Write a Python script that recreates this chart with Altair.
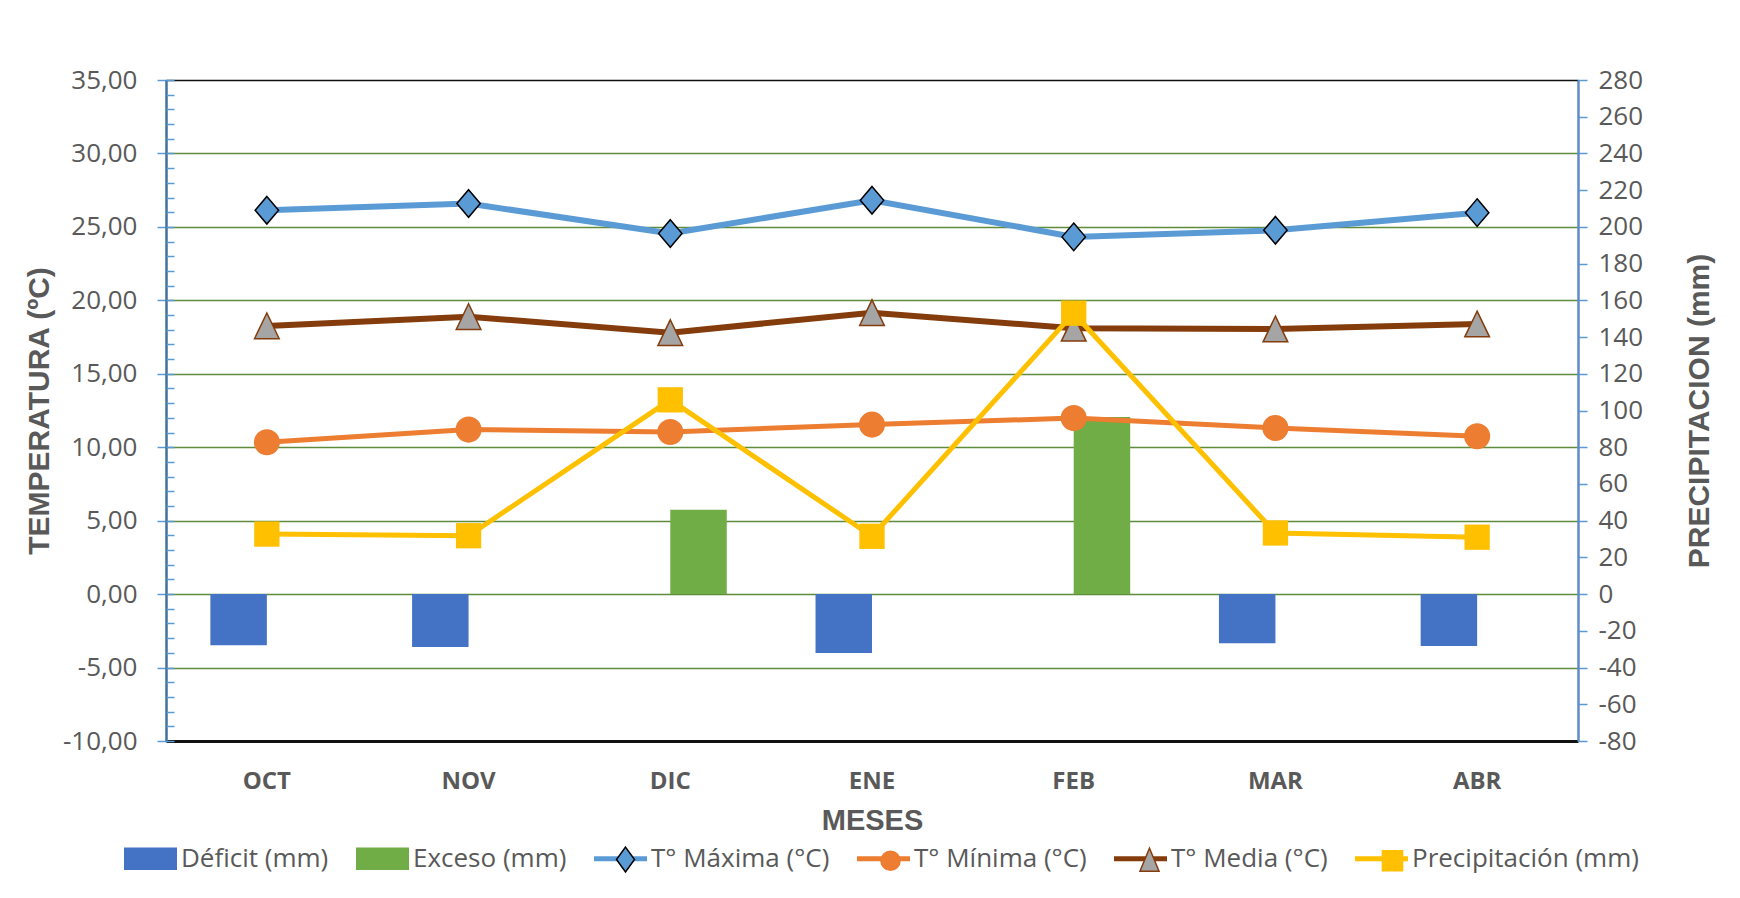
import altair as alt
import pandas as pd

# ---------------- data ----------------
meses = ["OCT", "NOV", "DIC", "ENE", "FEB", "MAR", "ABR"]
t_max = [26.13, 26.59, 24.55, 26.81, 24.32, 24.77, 25.97]
t_min = [10.34, 11.20, 11.04, 11.54, 11.99, 11.31, 10.75]
t_media = [18.26, 18.89, 17.80, 19.16, 18.10, 18.05, 18.39]
precipitacion = [32.7, 31.8, 105.8, 31.5, 153.0, 33.3, 31.0]
deficit = [-27.9, -28.8, None, -32.1, None, -26.7, -28.3]
exceso = [None, None, 46.0, None, 96.5, None, None]

series = ["Déficit (mm)", "Exceso (mm)", "T° Máxima (°C)",
          "T° Mínima (°C)", "T° Media (°C)", "Precipitación (mm)"]
temp_ticks = list(range(-10, 36, 5))
prec_ticks = list(range(-80, 281, 20))

# ---------------- styles ----------------
C_DEF, C_EXC = "#4472C4", "#70AD47"
C_MAX, C_MIN, C_MED, C_PRE = "#5B9BD5", "#ED7D31", "#843C0C", "#FFC000"
GRAY = "#595959"

df = pd.DataFrame({"mes": meses, "tmax": t_max, "tmin": t_min,
                   "tmed": t_media, "prec": precipitacion})
bars = pd.DataFrame(
    [{"mes": m, "tipo": "Déficit", "valor": v} for m, v in zip(meses, deficit) if v is not None]
    + [{"mes": m, "tipo": "Exceso", "valor": v} for m, v in zip(meses, exceso) if v is not None]
)
leg_df = pd.DataFrame({"serie": series, "serie_m": series})

X = alt.X("mes:N", sort=meses,
          scale=alt.Scale(type="band", domain=meses, paddingInner=0.44, paddingOuter=0.22),
          axis=alt.Axis(title="MESES", labelAngle=0, ticks=False, domain=False, grid=False,
                        labelFont="Open Sans", labelFontWeight="bold", labelFontSize=24,
                        labelColor=GRAY, labelPadding=28,
                        titleFont="Liberation Sans", titleFontSize=29, titleFontWeight="bold",
                        titleColor=GRAY, titlePadding=13))

temp_scale = alt.Scale(domain=[-10, 35], nice=False, zero=False)
prec_scale = alt.Scale(domain=[-80, 280], nice=False, zero=False)

axis_temp = alt.Axis(
    title="TEMPERATURA (ºC)", orient="left", values=temp_ticks,
    labelExpr="(datum.value < 0 ? '-' : '') + replace(format(abs(datum.value), '.2f'), '.', ',')",
    grid=True,
    gridColor={"condition": {"test": "datum.value === -10 || datum.value === 35", "value": "#111111"},
               "value": "#5E8C3A"},
    gridWidth={"condition": {"test": "datum.value === -10", "value": 3}, "value": 1.6},
    domainColor="#41719C", domainWidth=2.5,
    tickColor="#5B9BD5", tickSize=9, tickWidth=1.5,
    labelPadding=20, labelFont="Open Sans", labelFontSize=26, labelColor=GRAY,
    titleFont="Liberation Sans", titleFontSize=30, titleFontWeight="bold",
    titleColor=GRAY, titlePadding=8)

axis_prec = alt.Axis(
    title="PRECIPITACION (mm)", orient="right", values=prec_ticks,
    labelExpr="(datum.value < 0 ? '-' : '') + format(abs(datum.value), 'd')",
    grid=False, domainColor="#5F8CC4", domainWidth=2.5,
    tickColor="#5B9BD5", tickSize=9, tickWidth=1.5,
    labelPadding=11, labelFont="Open Sans", labelFontSize=26, labelColor=GRAY,
    titleFont="Liberation Sans", titleFontSize=30, titleFontWeight="bold",
    titleColor=GRAY, titleAngle=270, titleBaseline="top", titlePadding=42)

base = alt.Chart(df)

# ---------------- bars (secondary scale) ----------------
bar_base = alt.Chart(bars)
xoff = alt.XOffset("tipo:N", scale=alt.Scale(domain=["Déficit", "Exceso"], paddingInner=0, paddingOuter=0))
bars_def = bar_base.transform_filter(alt.datum.tipo == "Déficit").mark_bar(color=C_DEF).encode(
    x=X, xOffset=xoff, y=alt.Y("valor:Q", scale=prec_scale, axis=None))
bars_exc = bar_base.transform_filter(alt.datum.tipo == "Exceso").mark_bar(color=C_EXC).encode(
    x=X, xOffset=xoff, y=alt.Y("valor:Q", scale=prec_scale, axis=None))

# ---------------- temperature lines ----------------
def ty(f):
    return alt.Y(f"{f}:Q", scale=temp_scale, axis=axis_temp)

diamond = "M0,-1L0.85,0L0,1L-0.85,0Z"
triangle = "M0,-1L0.96,1L-0.96,1Z"

temp = alt.layer(
    base.mark_line(color=C_MAX, strokeWidth=6).encode(x=X, y=ty("tmax")),
    base.mark_point(shape=diamond, size=760, filled=True, fill=C_MAX, stroke="black",
                    strokeWidth=1.5, opacity=1).encode(x=X, y=ty("tmax")),
    base.mark_line(color=C_MIN, strokeWidth=5).encode(x=X, y=ty("tmin")),
    base.mark_point(shape="circle", size=680, filled=True, fill=C_MIN, opacity=1).encode(x=X, y=ty("tmin")),
    base.mark_line(color=C_MED, strokeWidth=6).encode(x=X, y=ty("tmed")),
    base.mark_point(shape=triangle, size=660, filled=True, fill="#A5A5A5", stroke=C_MED,
                    strokeWidth=1.5, opacity=1).encode(x=X, y=ty("tmed")),
)

# ---------------- precipitation line ----------------
py = alt.Y("prec:Q", scale=prec_scale, axis=axis_prec)
prec = alt.layer(
    base.mark_line(color=C_PRE, strokeWidth=5).encode(x=X, y=py),
    base.mark_point(shape="square", size=640, filled=True, fill=C_PRE, opacity=1).encode(x=X, y=py),
)

# ---------------- minor ticks on the left axis ----------------
minor = base.mark_point(opacity=0).encode(
    x=X,
    y=alt.Y("tmax:Q", scale=temp_scale,
            axis=alt.Axis(orient="left", offset=-8, values=list(range(-10, 36)), tickSize=8,
                          tickColor="#5B9BD5", tickWidth=1.5, labels=False, domain=False,
                          grid=False, title=None)))

# ---------------- legend ----------------
bar_sym = "M-1,-0.42H1V0.42H-1Z"
line_sym = "M-1,-0.09H1V0.09H-1Z"
shapes1 = [bar_sym, bar_sym, line_sym, line_sym, line_sym, line_sym]
colores = [C_DEF, C_EXC, C_MAX, C_MIN, C_MED, C_PRE]

m_diamond = "M0,-0.47L0.34,0L0,0.47L-0.34,0Z"
m_circle = "M-0.36,0A0.36,0.36 0 1,0 0.36,0A0.36,0.36 0 1,0 -0.36,0Z"
m_triangle = "M0,-0.45L0.36,0.42L-0.36,0.42Z"
m_square = "M-0.38,-0.38H0.38V0.38H-0.38Z"
m_none = "M0,0"
shapes2 = [m_none, m_none, m_diamond, m_circle, m_triangle, m_square]
fills2 = ["transparent", "transparent", C_MAX, C_MIN, "#A5A5A5", C_PRE]
strokes2 = ["transparent", "transparent", "black", C_MIN, C_MED, C_PRE]

leg_common = dict(title=None, orient="none", legendX=-42, legendY=752, direction="horizontal",
                  symbolSize=2809, labelFont="Open Sans", labelFontSize=26, labelColor=GRAY,
                  labelOffset=4, columnPadding=27, labelLimit=500, padding=0)
L1 = alt.Legend(symbolStrokeWidth=0, **leg_common)
L2 = alt.Legend(symbolStrokeWidth=1.5, labelOpacity=0, **leg_common)

leg1 = alt.Chart(leg_df).transform_filter("false").mark_point(filled=True, opacity=1).encode(
    color=alt.Color("serie:N", scale=alt.Scale(domain=series, range=colores), legend=L1),
    shape=alt.Shape("serie:N", scale=alt.Scale(domain=series, range=shapes1), legend=L1),
)
leg2 = alt.Chart(leg_df).transform_filter("false").mark_point(filled=True, opacity=1).encode(
    fill=alt.Fill("serie_m:N", scale=alt.Scale(domain=series, range=fills2), legend=L2),
    stroke=alt.Stroke("serie_m:N", scale=alt.Scale(domain=series, range=strokes2), legend=L2),
    shape=alt.Shape("serie_m:N", scale=alt.Scale(domain=series, range=shapes2), legend=L2),
)

chart = alt.layer(bars_def, bars_exc, temp, prec, minor, leg1, leg2).resolve_scale(
    y="independent", shape="independent", color="independent",
    fill="independent", stroke="independent"
).properties(
    width=1412, height=661,
    autosize=alt.AutoSizeParams(type="none"),
    padding={"left": 166, "top": 80, "right": 162, "bottom": 157},
    background="white",
).configure_view(stroke=None)

chart.save("out.html", embed_options={"renderer": "svg", "actions": False})
